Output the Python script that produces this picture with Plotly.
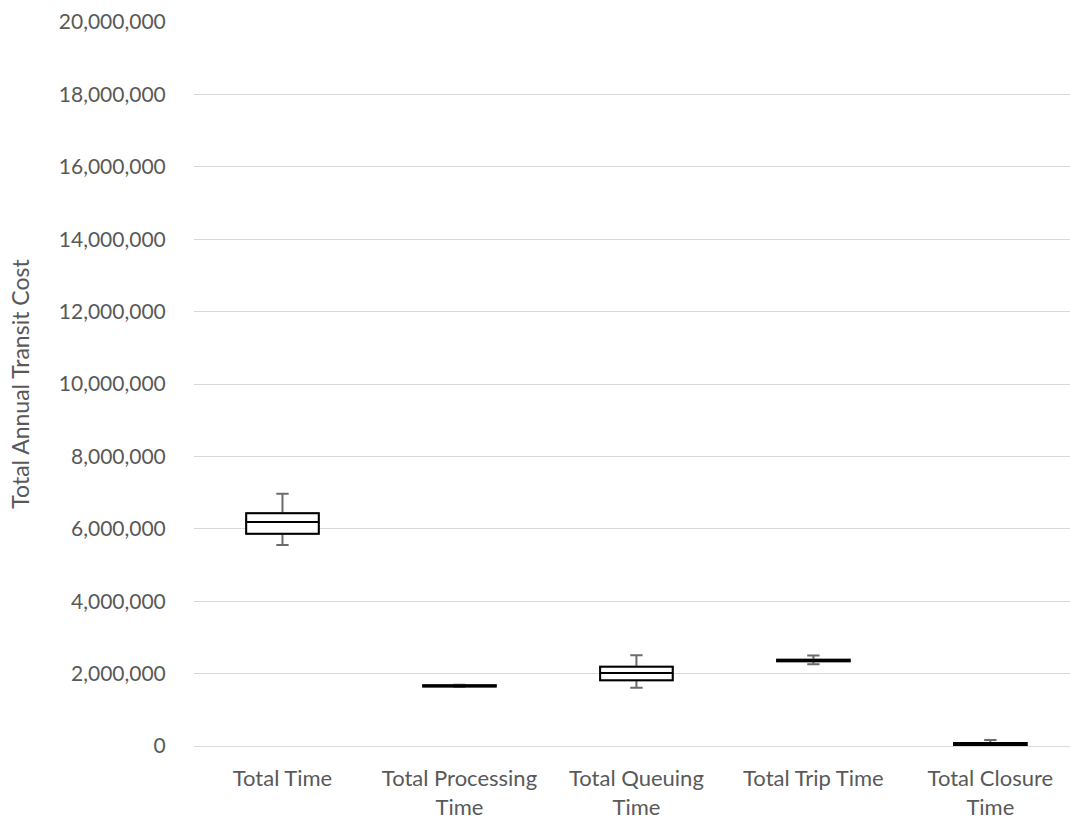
import plotly.graph_objects as go

# Summary statistics per cost component (annual transit cost)
categories = ["Total Time", "Total Processing<br>Time", "Total Queuing<br>Time",
              "Total Trip Time", "Total Closure<br>Time"]
lower_whisker = [5550000, 1630000, 1610000, 2260000, 10000]
q1_values = [5860000, 1645000, 1815000, 2340000, 30000]
median_values = [6190000, 1660000, 2020000, 2360000, 50000]
q3_values = [6430000, 1675000, 2190000, 2380000, 80000]
upper_whisker = [6970000, 1690000, 2510000, 2500000, 166000]

y_ticks = list(range(0, 20000001, 2000000))
y_tick_labels = [f"{v:,}" for v in y_ticks]

font_family = "Lato, Open Sans, sans-serif"
text_grey = "#595959"

fig = go.Figure()

# Grey whiskers with caps
fig.add_trace(go.Box(
    x=categories, q1=q1_values, median=median_values, q3=q3_values,
    lowerfence=lower_whisker, upperfence=upper_whisker,
    width=0.41, whiskerwidth=0.17,
    line=dict(color="#6b6b6b", width=2), fillcolor="white",
    boxpoints=False, showlegend=False, hoverinfo="skip",
))
# Black box outline and median on top
fig.add_trace(go.Box(
    x=categories, q1=q1_values, median=median_values, q3=q3_values,
    lowerfence=q1_values, upperfence=q3_values,
    width=0.41, whiskerwidth=0,
    line=dict(color="black", width=2), fillcolor="white",
    boxpoints=False, showlegend=False,
))

fig.update_layout(
    width=1070, height=822,
    margin=dict(l=194, r=0, t=22, b=76),
    paper_bgcolor="white", plot_bgcolor="white",
    boxmode="overlay",
    font=dict(family=font_family, color=text_grey, size=20),
    xaxis=dict(
        range=[-0.5, 4.45],
        showgrid=False, showline=False,
        ticks="outside", ticklen=13, tickcolor="rgba(0,0,0,0)",
        tickfont=dict(size=22, color=text_grey),
    ),
    yaxis=dict(
        range=[0, 20000000], tickvals=y_ticks, ticktext=y_tick_labels,
        showgrid=True, gridcolor="#d9d9d9", gridwidth=1,
        zeroline=True, zerolinecolor="#d9d9d9", zerolinewidth=1,
        showline=False, ticks="outside", ticklen=23, tickcolor="rgba(0,0,0,0)",
        tickfont=dict(size=21, color=text_grey),
        title=dict(text="Total Annual Transit Cost", standoff=22,
                   font=dict(size=23, color=text_grey)),
    ),
)

fig.write_html("out.html")
